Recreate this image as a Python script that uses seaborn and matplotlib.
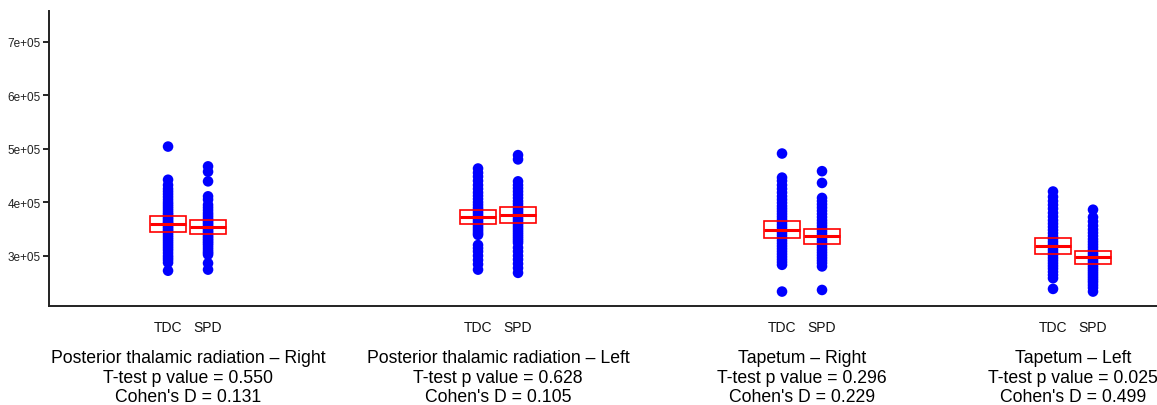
import numpy as np
import pandas as pd
import matplotlib
matplotlib.use("Agg")
import matplotlib.pyplot as plt
import seaborn as sns
from matplotlib.ticker import FixedLocator, FuncFormatter
import matplotlib.transforms as mtransforms

# ---------------- data (values in units of 1000) ----------------
regions = ["Posterior thalamic radiation \u2013 Right",
           "Posterior thalamic radiation \u2013 Left",
           "Tapetum \u2013 Right",
           "Tapetum \u2013 Left"]
groups = ["TDC", "SPD"]
p_values = ["0.550", "0.628", "0.296", "0.025"]
cohens_d = ["0.131", "0.105", "0.229", "0.499"]

ptr_right_tdc = [504, 442, 432, 425, 420, 415, 410, 405, 400, 396, 392, 388, 384, 380,
                 377, 374, 371, 368, 365, 362, 360, 357, 354, 351, 348, 345, 342, 338,
                 334, 330, 326, 322, 318, 314, 310, 305, 300, 296, 292, 287, 272]
ptr_right_spd = [467, 457, 439, 411, 405, 395, 390, 385, 380, 376, 372, 368, 365, 362,
                 359, 356, 353, 350, 347, 344, 341, 338, 335, 332, 329, 326, 323, 320,
                 316, 312, 308, 305, 302, 286, 274]
ptr_left_tdc = [463, 455, 448, 440, 432, 425, 418, 412, 406, 400, 395, 390, 386, 382,
                378, 374, 370, 366, 362, 358, 354, 350, 346, 342, 339, 320, 314, 308,
                300, 292, 284, 274]
ptr_left_spd = [488, 480, 439, 432, 426, 420, 414, 408, 402, 397, 392, 388, 384, 380,
                376, 372, 368, 364, 360, 356, 352, 348, 344, 340, 336, 332, 328, 324,
                315, 308, 300, 293, 285, 277, 268]
tap_right_tdc = [491, 446, 440, 432, 425, 418, 411, 405, 399, 393, 388, 383, 378, 373,
                 368, 363, 358, 353, 348, 343, 338, 333, 328, 323, 318, 313, 308, 303,
                 298, 293, 288, 283, 233]
tap_right_spd = [458, 436, 408, 402, 396, 390, 384, 378, 372, 366, 361, 356, 351, 346,
                 341, 336, 331, 326, 321, 316, 311, 306, 301, 296, 291, 286, 280, 236]
tap_left_tdc = [420, 410, 402, 395, 388, 380, 373, 366, 360, 354, 348, 342, 336, 331,
                326, 321, 316, 311, 306, 301, 296, 291, 286, 281, 276, 270, 264, 258, 238]
tap_left_spd = [386, 372, 364, 356, 349, 343, 337, 331, 326, 321, 316, 311, 306, 302,
                298, 294, 290, 286, 282, 278, 274, 270, 266, 262, 258, 254, 250, 245,
                240, 233]

# crossbar: mean and half-height (thousands)
box_mean = [[359.5, 353.8], [372.0, 376.0], [349.0, 336.0], [319.0, 297.0]]
box_half = [[15.6, 13.5], [13.5, 15.0], [16.0, 14.0], [15.0, 11.6]]

series = [[ptr_right_tdc, ptr_right_spd], [ptr_left_tdc, ptr_left_spd],
          [tap_right_tdc, tap_right_spd], [tap_left_tdc, tap_left_spd]]

# ---------------- layout ----------------
group_centers = [3.475, 11.225, 18.825, 25.6]
offsets = [-0.5, 0.5]
box_width = 0.9

rows = []
for gi, pair in enumerate(series):
    for si, vals in enumerate(pair):
        for v in vals:
            rows.append({"x": group_centers[gi] + offsets[si], "value": v * 1000.0,
                         "region": regions[gi], "group": groups[si]})
df = pd.DataFrame(rows)

sns.set_theme(style="white")
plt.rcParams["font.family"] = ["Liberation Sans", "DejaVu Sans"]

fig = plt.figure(figsize=(11.57, 4.06), dpi=100)
ax = fig.add_axes([0.0424, 0.2438, 0.9576, 0.7259])

sns.scatterplot(data=df, x="x", y="value", color="#0000ff", s=58, linewidth=0,
                edgecolor="none", ax=ax, legend=False, zorder=2)

for gi in range(len(regions)):
    for si in range(2):
        xc = group_centers[gi] + offsets[si]
        m = box_mean[gi][si] * 1000.0
        h = box_half[gi][si] * 1000.0
        ax.bar(xc, 2 * h, bottom=m - h, width=box_width, fill=False,
               edgecolor="#ff0000", linewidth=1.2, zorder=3)
        ax.hlines(m, xc - box_width / 2, xc + box_width / 2, color="#ff0000",
                  linewidth=2.2, zorder=3)

ax.set_xlim(0, 27.7)
ax.set_ylim(206000, 756800)

ax.yaxis.set_major_locator(FixedLocator([300000, 400000, 500000, 600000, 700000]))
ax.yaxis.set_major_formatter(FuncFormatter(lambda v, p: f"{int(round(v / 1e5))}e+05"))
ax.tick_params(axis="y", which="major", length=4, width=1.2, color="black",
               labelsize=8.5, pad=2, left=True, labelcolor="#222222")

xt = [c + o for c in group_centers for o in offsets]
ax.set_xticks(xt)
ax.set_xticklabels(groups * len(regions))
ax.tick_params(axis="x", length=0, labelsize=10, pad=10, labelcolor="#111111")

ax.set_xlabel("")
ax.set_ylabel("")

for sp in ["top", "right"]:
    ax.spines[sp].set_visible(False)
for sp in ["left", "bottom"]:
    ax.spines[sp].set_visible(True)
    ax.spines[sp].set_color("#222222")
    ax.spines[sp].set_linewidth(1.4)

trans = mtransforms.blended_transform_factory(ax.transData, ax.transAxes)
for gi in range(len(regions)):
    lines = [regions[gi], f"T-test p value = {p_values[gi]}",
             f"Cohen's D = {cohens_d[gi]}"]
    for li, (txt, yy) in enumerate(zip(lines, [-0.173, -0.244, -0.308])):
        ax.text(group_centers[gi], yy, txt, transform=trans, ha="center",
                va="center", fontsize=12.7, color="black", clip_on=False)

fig.savefig("out.png", dpi=100)
